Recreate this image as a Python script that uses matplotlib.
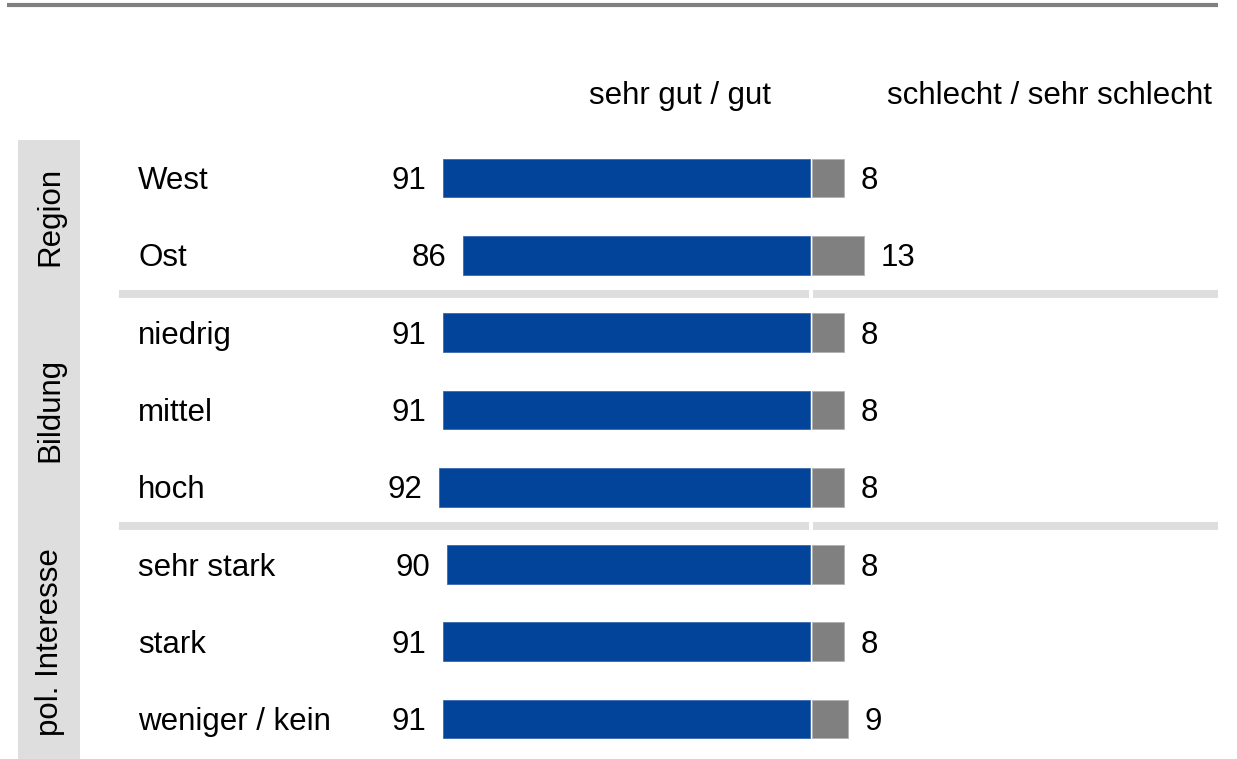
import matplotlib
matplotlib.use("Agg")
from matplotlib import pyplot as plt
from matplotlib.patches import Rectangle
import numpy as np

plt.rcParams['font.family'] = ['Liberation Sans', 'DejaVu Sans']

groups = ["Region", "Bildung", "pol. Interesse"]
group_sizes = [2, 3, 3]
rows = ["West", "Ost", "niedrig", "mittel", "hoch", "sehr stark", "stark", "weniger / kein"]
gut = [91, 86, 91, 91, 92, 90, 91, 91]
schlecht = [8, 13, 8, 8, 8, 8, 8, 9]
headers = ["sehr gut / gut", "schlecht / sehr schlecht"]

BLUE = "#02449a"
GRAY = "#808080"
LIGHT = "#dedede"
FS = 22.5

W, H = 1237, 759
fig = plt.figure(figsize=(W / 100, H / 100), dpi=100)
ax = fig.add_axes([0, 0, 1, 1])

# pixel layout: zero line at x=810, 4.03 px per percent, rows 77.3 px apart
x0, sx = 810, 4.03
y0, sy = 178, 77.3
def dx(p):
    return (p - x0) / sx
def dy(p):
    return (p - y0) / sy

ax.set_xlim(dx(0), dx(W))
ax.set_ylim(dy(H), dy(0))
ax.axis("off")

y = np.arange(len(rows))
ax.barh(y, [-v for v in gut], height=0.5, color=BLUE, edgecolor="#3a6ab0", linewidth=0.6)
ax.barh(y, schlecht, left=0.5, height=0.5, color=GRAY, edgecolor="#b0b0b0", linewidth=0.6)

toff = 3 / sy  # text sits a little below bar centre
for i in range(len(rows)):
    ax.text(dx(138), i + toff, rows[i], ha="left", va="center", fontsize=FS)
    ax.text(-gut[i] - 4.3, i + toff, str(gut[i]), ha="right", va="center", fontsize=FS)
    ax.text(0.5 + schlecht[i] + 4, i + toff, str(schlecht[i]), ha="left", va="center", fontsize=FS)

# separators between groups
bounds = np.cumsum(group_sizes)[:-1] - 0.5
for b in bounds:
    ax.hlines(b, dx(119), -0.2, color=LIGHT, linewidth=5.8)
    ax.hlines(b, 0.7, dx(1218), color=LIGHT, linewidth=5.8)

# group label box
ax.add_patch(Rectangle((dx(18), dy(140)), dx(80) - dx(18), dy(H) - dy(140),
                       facecolor=LIGHT, edgecolor="none", zorder=0))
start = 0
for g, n in zip(groups, group_sizes):
    mid = start + (n - 1) / 2
    ax.text(dx(50), mid, g, rotation=90, ha="center", va="center", fontsize=FS)
    start += n

# headers
ax.text(dx(680), dy(96), headers[0], ha="center", va="center", fontsize=FS)
ax.text(dx(1212), dy(96), headers[1], ha="right", va="center", fontsize=FS)

# top rule
ax.hlines(dy(5), dx(7), dx(1218), color=GRAY, linewidth=3)

fig.savefig("out.png", dpi=100)
plt.close()
